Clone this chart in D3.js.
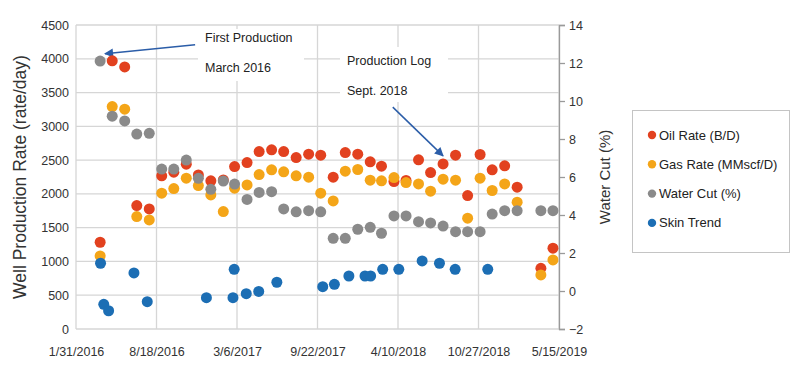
<!DOCTYPE html>
<html>
<head>
<meta charset="utf-8">
<script src="https://cdn.jsdelivr.net/npm/d3@7"></script>
<style>
  html, body { margin: 0; padding: 0; background: #fff; }
  svg { display: block; font-family: "Liberation Sans", Arial, sans-serif; }
</style>
</head>
<body>
<svg id="chart" width="800" height="367"></svg>
<script>
// ---------------- DATA ----------------
const months = [
  "2016-03-31","2016-04-30","2016-05-31","2016-06-30","2016-07-31","2016-08-31",
  "2016-09-30","2016-10-31","2016-11-30","2016-12-31","2017-01-31","2017-02-28",
  "2017-03-31","2017-04-30","2017-05-31","2017-06-30","2017-07-31","2017-08-31",
  "2017-09-30","2017-10-31","2017-11-30","2017-12-31","2018-01-31","2018-02-28",
  "2018-03-31","2018-04-30","2018-05-31","2018-06-30","2018-07-31","2018-08-31",
  "2018-09-30","2018-10-31","2018-11-30","2018-12-31","2019-01-31","2019-02-28",
  "2019-03-31","2019-04-30"
];
const oilRate = [
  1284, 3970, 3880, 1827, 1778, 2267, 2321, 2439, 2281, 2193, 2207, 2405,
  2464, 2627, 2652, 2627, 2538, 2588, 2573, 2247, 2612, 2588, 2474, 2410,
  2183, 2198, 2504, 2316, 2444, 2573, 1975, 2583, 2356, 2415, 2099, null,
  899, 1196
];
const gasRate = [
  1081, 3293, 3254, 1664, 1615, 2010, 2079, 2232, 2123, 1985, 1738, 2084,
  2133, 2286, 2356, 2326, 2267, 2247, 2010, 1896, 2336, 2361, 2203, 2193,
  2242, 2168, 2148, 2040, 2218, 2203, 1640, 2232, 2050, 2148, 1877, null,
  800, 1022
];
const waterCut = [
  12.1, 9.2, 8.95, 8.26, 8.3, 6.42, 6.42, 6.89, 5.93, 5.35, 5.79, 5.63,
  4.82, 5.19, 5.23, 4.32, 4.17, 4.23, 4.17, 2.77, 2.77, 3.25, 3.35, 3.04,
  3.95, 3.95, 3.65, 3.58, 3.42, 3.12, 3.12, 3.12, 4.05, 4.23, 4.23, null,
  4.23, 4.23
];
const skinDates = [
  "2016-04-01","2016-04-09","2016-04-21","2016-06-23","2016-07-26","2016-12-20",
  "2017-02-24","2017-02-27","2017-03-29","2017-04-29","2017-06-13","2017-10-05",
  "2017-11-03","2017-12-09","2018-01-18","2018-02-01","2018-03-03","2018-04-12",
  "2018-06-09","2018-07-22","2018-08-30","2018-11-19"
];
const skinTrend = [
  1.46, -0.70, -1.04, 0.95, -0.56, -0.35,
  -0.35, 1.14, -0.14, -0.02, 0.46, 0.23,
  0.35, 0.79, 0.79, 0.79, 1.14, 1.14,
  1.58, 1.46, 1.14, 1.14
];
const xTickDates = ["2016-01-31","2016-08-18","2017-03-06","2017-09-22","2018-04-10","2018-10-27","2019-05-15"];
const leftTicks = [0, 500, 1000, 1500, 2000, 2500, 3000, 3500, 4000, 4500];
const rightTicks = [-2, 0, 2, 4, 6, 8, 10, 12, 14];
const seriesNames = ["Oil Rate (B/D)", "Gas Rate (MMscf/D)", "Water Cut (%)", "Skin Trend"];
const seriesColors = ["#E2411F", "#F4A518", "#8A8A8A", "#1C6EB4"];

// ---------------- SCALES ----------------
const parse = d3.timeParse("%Y-%m-%d");
const fmt = d3.timeFormat("%-m/%-d/%Y");
const L = 76, R = 559, T = 25, B = 329;
const x = d3.scaleTime().domain([parse(xTickDates[0]), parse(xTickDates[xTickDates.length - 1])]).range([L, R]);
const yL = d3.scaleLinear().domain([0, 4500]).range([B, T]);
const yR = d3.scaleLinear().domain([-2, 14]).range([B, T]);

const svg = d3.select("#chart");
svg.append("rect").attr("width", 800).attr("height", 367).attr("fill", "#fff");

// gridlines
const grid = svg.append("g").attr("stroke", "#d6d6d6").attr("stroke-width", 1.3);
leftTicks.forEach(v => grid.append("line").attr("x1", L).attr("x2", R).attr("y1", yL(v)).attr("y2", yL(v)));
xTickDates.forEach(d => grid.append("line").attr("x1", x(parse(d))).attr("x2", x(parse(d))).attr("y1", T).attr("y2", B));

// left axis labels
const yAxisL = d3.axisLeft(yL).tickValues(leftTicks).tickFormat(d3.format("d")).tickSize(0).tickPadding(7);
const gL = svg.append("g").attr("transform", `translate(${L},0)`).call(yAxisL);
gL.select(".domain").remove();
gL.selectAll("text").attr("font-size", 12.5).attr("fill", "#333").attr("font-family", "Liberation Sans, Arial, sans-serif");

// right axis
const yAxisR = d3.axisRight(yR).tickValues(rightTicks).tickSize(6).tickPadding(4);
const gR = svg.append("g").attr("transform", `translate(${R},0)`).call(yAxisR);
gR.select(".domain").attr("stroke", "#9a9a9a").attr("stroke-width", 1.3);
gR.selectAll(".tick line").attr("stroke", "#9a9a9a").attr("stroke-width", 1.3);
gR.selectAll("text").attr("font-size", 12.5).attr("fill", "#333").attr("font-family", "Liberation Sans, Arial, sans-serif");

// bottom axis
const xAxis = d3.axisBottom(x).tickValues(xTickDates.map(parse)).tickFormat(fmt).tickSize(0).tickPadding(18);
const gB = svg.append("g").attr("transform", `translate(0,${B})`).call(xAxis);
gB.select(".domain").remove();
gB.selectAll("text").attr("font-size", 12.5).attr("fill", "#333").attr("font-family", "Liberation Sans, Arial, sans-serif");

// axis titles
svg.append("text").attr("transform", `translate(26,177) rotate(-90)`).attr("text-anchor", "middle")
  .attr("font-size", 17.5).attr("fill", "#333").text("Well Production Rate (rate/day)");
svg.append("text").attr("transform", `translate(610,177) rotate(-90)`).attr("text-anchor", "middle")
  .attr("font-size", 15).attr("fill", "#333").text("Water Cut (%)");

// annotations (white boxes, text, arrows)
const ann = svg.append("g");
ann.append("rect").attr("x", 198).attr("y", 29).attr("width", 106).attr("height", 52).attr("fill", "#fff");
ann.append("rect").attr("x", 340).attr("y", 47).attr("width", 108).attr("height", 55).attr("fill", "#fff");
ann.append("text").attr("x", 205).attr("y", 42).attr("font-size", 12.5).attr("fill", "#222").text("First Production");
ann.append("text").attr("x", 205).attr("y", 72).attr("font-size", 12.5).attr("fill", "#222").text("March 2016");
ann.append("text").attr("x", 347).attr("y", 65).attr("font-size", 12.5).attr("fill", "#222").text("Production Log");
ann.append("text").attr("x", 347).attr("y", 95).attr("font-size", 12.5).attr("fill", "#222").text("Sept. 2018");

const defs = svg.append("defs");
defs.append("marker").attr("id", "ah").attr("viewBox", "0 0 10 10").attr("refX", 9).attr("refY", 5)
  .attr("markerWidth", 10).attr("markerHeight", 9).attr("markerUnits", "userSpaceOnUse").attr("orient", "auto")
  .append("path").attr("d", "M0,0 L10,5 L0,10 z").attr("fill", "#2B5DA8");
ann.append("line")
  .attr("x1", x(parse("2016-11-22"))).attr("y1", yL(4207))
  .attr("x2", x(parse("2016-04-12"))).attr("y2", yL(4074))
  .attr("stroke", "#2B5DA8").attr("stroke-width", 1.5).attr("marker-end", "url(#ah)");
ann.append("line")
  .attr("x1", x(parse("2018-03-28"))).attr("y1", yL(3284))
  .attr("x2", x(parse("2018-07-31"))).attr("y2", yL(2563))
  .attr("stroke", "#2B5DA8").attr("stroke-width", 1.5).attr("marker-end", "url(#ah)");

// points
const rPt = 5.5;
function plot(dates, vals, yScale, color) {
  const data = dates.map((d, i) => ({ d: parse(d), v: vals[i] })).filter(p => p.v !== null);
  svg.append("g").selectAll("circle").data(data).join("circle")
    .attr("cx", p => x(p.d)).attr("cy", p => yScale(p.v)).attr("r", rPt).attr("fill", color);
}
plot(months, oilRate, yL, seriesColors[0]);
plot(months, gasRate, yL, seriesColors[1]);
plot(months, waterCut, yR, seriesColors[2]);
plot(skinDates, skinTrend, yR, seriesColors[3]);

// legend
const lg = svg.append("g");
lg.append("rect").attr("x", 632.5).attr("y", 110.5).attr("width", 157).attr("height", 142)
  .attr("fill", "#fff").attr("stroke", "#c4c4c4").attr("stroke-width", 1);
seriesNames.forEach((n, i) => {
  const yy = 135 + i * 29.3;
  lg.append("circle").attr("cx", 652).attr("cy", yy).attr("r", 4.2).attr("fill", seriesColors[i]);
  lg.append("text").attr("x", 659).attr("y", yy).attr("dy", "0.35em").attr("font-size", 13).attr("fill", "#222").text(n);
});
</script>
</body>
</html>
